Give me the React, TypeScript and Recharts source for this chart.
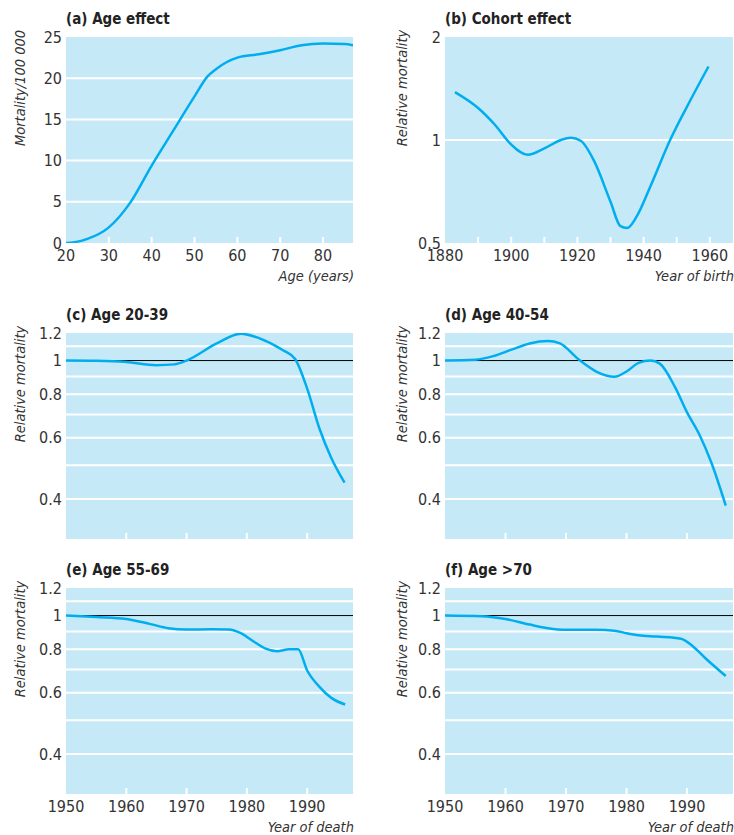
import { CartesianGrid, Line, LineChart, ReferenceLine, XAxis, YAxis } from 'recharts'

const FONT = '"Liberation Sans Narrow", "Arial Narrow", "DejaVu Sans Condensed", sans-serif'
const BG = '#c6e9f8'
const LINE = '#00aeef'
const INK = '#333'

// (a) age effect, mortality per 100 000
const ageX = [20, 22, 25, 30, 35, 40, 45, 50, 53, 55, 60, 65, 70, 75, 80, 85, 87]
const ageY = [0, 0.1, 0.5, 1.9, 4.9, 9.4, 13.6, 17.8, 20.2, 21.1, 22.5, 22.9, 23.4, 24.0, 24.2, 24.15, 24.0]

// (b) cohort effect, relative mortality by year of birth
const birthX = [1883, 1890, 1895, 1900, 1905, 1910, 1915, 1918, 1921, 1925, 1930, 1933, 1935, 1938, 1942, 1948, 1954, 1959.6]
const birthY = [1.38, 1.24, 1.11, 0.97, 0.905, 0.945, 1.0, 1.015, 0.995, 0.87, 0.66, 0.56, 0.553, 0.6, 0.73, 1.0, 1.3, 1.64]

// (c)-(f) period effects, relative mortality by year of death
const age2039X = [1950, 1955, 1960, 1965, 1968, 1970, 1975, 1979, 1982, 1986, 1988, 1990, 1992, 1994, 1996.2]
const age2039Y = [1.0, 0.998, 0.99, 0.97, 0.975, 1.0, 1.12, 1.195, 1.16, 1.07, 1.01, 0.83, 0.64, 0.525, 0.446]

const age4054X = [1950, 1955, 1958, 1961, 1964, 1967, 1969, 1972, 1975, 1978, 1980, 1982, 1984, 1985.5, 1988, 1990, 1992, 1994, 1996.4]
const age4054Y = [1.0, 1.005, 1.03, 1.075, 1.12, 1.138, 1.12, 1.01, 0.93, 0.898, 0.93, 0.985, 1.0, 0.98, 0.84, 0.71, 0.615, 0.51, 0.383]

const age5569X = [1950, 1955, 1960, 1964, 1967, 1970, 1974, 1977, 1979, 1981, 1983, 1985, 1987, 1988.5, 1990, 1992, 1994, 1996.3]
const age5569Y = [1.0, 0.99, 0.978, 0.945, 0.92, 0.912, 0.913, 0.912, 0.89, 0.845, 0.805, 0.79, 0.8, 0.8, 0.695, 0.625, 0.58, 0.555]

const age70X = [1950, 1956, 1960, 1964, 1967, 1970, 1975, 1978, 1980, 1982, 1985, 1989, 1991, 1993, 1996.4]
const age70Y = [1.0, 0.995, 0.977, 0.942, 0.92, 0.91, 0.91, 0.905, 0.89, 0.878, 0.87, 0.858, 0.815, 0.755, 0.67]

const ageTicks = [20, 30, 40, 50, 60, 70, 80]
const birthTicks = [1880, 1890, 1900, 1910, 1920, 1930, 1940, 1950, 1960]
const birthLabels = [1880, 1900, 1920, 1940, 1960]
const deathTicks = [1950, 1960, 1970, 1980, 1990]

const ageGrid = [5, 10, 15, 20]
const relTicks = [0.4, 0.6, 0.8, 1, 1.2]
const relGrid = [0.4, 0.5, 0.6, 0.7, 0.8, 0.9, 1.1]

const toRows = (xs: number[], ys: number[]) => xs.map((x, i) => ({ x, y: ys[i] }))

interface PanelProps {
  col: 0 | 1
  plotTop: number
  plotBottom: number
  rows: { x: number; y: number }[]
  xDomain: [number, number]
  xTicks: number[]
  xLabels: number[]
  yDomain: [number, number]
  yTicks: number[]
  log?: boolean
  grid: number[]
  unitLine?: boolean
  title: string
  yLabel: string
  xLabel?: string
}

// white tick marks sit inside the plot, numbers below it
const makeXTick = (labels: number[], marks: number[]) => (props: any) => {
  const { x, y, payload } = props
  const v = payload.value
  return (
    <g>
      {marks.includes(v) && <line x1={x} x2={x} y1={y} y2={y - 6} stroke="#fff" strokeWidth={2} />}
      {labels.includes(v) && (
        <text x={x} y={y + 18} textAnchor="middle" fill={INK} fontSize={16} fontFamily={FONT}>
          {v}
        </text>
      )}
    </g>
  )
}

function Panel(p: PanelProps) {
  const svgLeft = p.col === 0 ? 0 : 367
  const plotLeft = p.col === 0 ? 66 : 445
  const plotRight = p.col === 0 ? 353 : 733
  const padTop = 12
  const axisH = 26
  const width = 367
  const height = p.plotBottom - p.plotTop + padTop + axisH
  const yLabelX = p.col === 0 ? 20 : 402
  const yLabelY = p.plotTop + 51
  return (
    <>
      <div
        style={{
          position: 'absolute', left: plotLeft, top: p.plotTop - 27, fontFamily: FONT,
          fontWeight: 'bold', fontSize: 15, lineHeight: '18px', color: '#222', whiteSpace: 'nowrap',
        }}
      >
        {p.title}
      </div>
      <div
        style={{
          position: 'absolute', left: yLabelX, top: yLabelY, fontFamily: FONT, fontStyle: 'italic',
          fontSize: 14.5, lineHeight: '18px', color: INK, whiteSpace: 'nowrap',
          transform: 'translate(-50%, -50%) rotate(-90deg)',
        }}
      >
        {p.yLabel}
      </div>
      {p.xLabel && (
        <div
          style={{
            position: 'absolute', right: 734 - plotRight - 1, top: p.plotBottom + 27, fontFamily: FONT,
            fontStyle: 'italic', fontSize: 14.5, lineHeight: '13px', color: INK, whiteSpace: 'nowrap',
          }}
        >
          {p.xLabel}
        </div>
      )}
      <div style={{ position: 'absolute', left: svgLeft, top: p.plotTop - padTop }}>
        <LineChart
          width={width}
          height={height}
          data={p.rows}
          margin={{ top: padTop, right: svgLeft + width - plotRight, bottom: 0, left: 0 }}
        >
          <CartesianGrid horizontal={false} vertical={false} fill={BG} stroke="none" />
          <XAxis
            dataKey="x"
            type="number"
            domain={p.xDomain}
            ticks={p.xTicks}
            interval={0}
            allowDataOverflow
            axisLine={false}
            tickLine={false}
            tickSize={0}
            tickMargin={0}
            height={axisH}
            tick={makeXTick(p.xLabels, p.xTicks.slice(1))}
          />
          <YAxis
            type="number"
            scale={p.log ? 'log' : 'linear'}
            domain={p.yDomain}
            ticks={p.yTicks}
            interval={0}
            allowDataOverflow
            axisLine={false}
            tickLine={false}
            tickSize={0}
            tickMargin={4}
            width={plotLeft - svgLeft}
            tick={{ fill: INK, fontSize: 16, fontFamily: FONT }}
          />
          {p.grid.map(v => (
            <ReferenceLine key={v} y={v} stroke="#fff" strokeWidth={2} />
          ))}
          {p.unitLine && <ReferenceLine y={1} stroke="#000" strokeWidth={1} />}
          <Line type="monotone" dataKey="y" stroke={LINE} strokeWidth={2.5} dot={false} isAnimationActive={false} />
        </LineChart>
      </div>
    </>
  )
}

export default function App() {
  return (
    <div style={{ position: 'absolute', left: 0, top: 0, width: 734, height: 835, background: '#fff' }}>
      <Panel
        col={0} plotTop={37} plotBottom={243} rows={toRows(ageX, ageY)}
        xDomain={[20, 87]} xTicks={ageTicks} xLabels={ageTicks}
        yDomain={[0, 25]} yTicks={[0, 5, 10, 15, 20, 25]} grid={ageGrid}
        title="(a) Age effect" yLabel="Mortality/100 000" xLabel="Age (years)"
      />
      <Panel
        col={1} plotTop={37} plotBottom={243} rows={toRows(birthX, birthY)}
        xDomain={[1880, 1967]} xTicks={birthTicks} xLabels={birthLabels}
        yDomain={[0.5, 2]} yTicks={[0.5, 1, 2]} log grid={[1]}
        title="(b) Cohort effect" yLabel="Relative mortality" xLabel="Year of birth"
      />
      <Panel
        col={0} plotTop={333} plotBottom={539} rows={toRows(age2039X, age2039Y)}
        xDomain={[1950, 1997.6]} xTicks={deathTicks} xLabels={[]}
        yDomain={[0.307, 1.2]} yTicks={relTicks} log grid={relGrid} unitLine
        title="(c) Age 20-39" yLabel="Relative mortality"
      />
      <Panel
        col={1} plotTop={333} plotBottom={539} rows={toRows(age4054X, age4054Y)}
        xDomain={[1950, 1997.6]} xTicks={deathTicks} xLabels={[]}
        yDomain={[0.307, 1.2]} yTicks={relTicks} log grid={relGrid} unitLine
        title="(d) Age 40-54" yLabel="Relative mortality"
      />
      <Panel
        col={0} plotTop={588} plotBottom={794} rows={toRows(age5569X, age5569Y)}
        xDomain={[1950, 1997.6]} xTicks={deathTicks} xLabels={deathTicks}
        yDomain={[0.307, 1.2]} yTicks={relTicks} log grid={relGrid} unitLine
        title="(e) Age 55-69" yLabel="Relative mortality" xLabel="Year of death"
      />
      <Panel
        col={1} plotTop={588} plotBottom={794} rows={toRows(age70X, age70Y)}
        xDomain={[1950, 1997.6]} xTicks={deathTicks} xLabels={deathTicks}
        yDomain={[0.307, 1.2]} yTicks={relTicks} log grid={relGrid} unitLine
        title="(f) Age >70" yLabel="Relative mortality" xLabel="Year of death"
      />
    </div>
  )
}
